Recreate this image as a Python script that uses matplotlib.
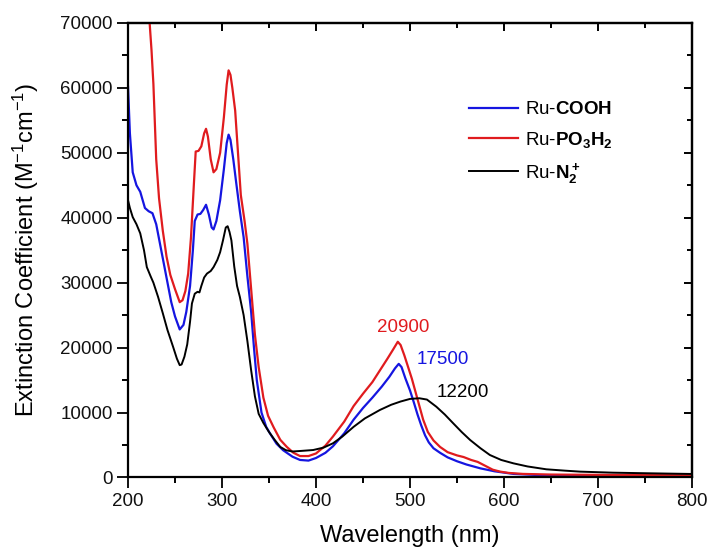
import matplotlib
matplotlib.use("Agg")
import matplotlib.pyplot as plt
from matplotlib.ticker import MultipleLocator

# === Daten ===
wl_cooh = [200, 202, 205, 209, 213, 218, 222, 226, 230, 234, 238, 242, 246, 250, 255,
           259, 262, 266, 269, 271, 274, 277, 280, 283, 286, 289, 291, 294, 298, 302,
           305, 307, 309, 312, 315, 319, 323, 327, 331, 334, 337, 342, 347, 351, 358,
           365, 375, 383, 392, 400, 410, 418, 430, 440, 450, 460, 470, 478, 484, 488,
           491, 495, 500, 504, 508, 512, 516, 520, 525, 532, 540, 550, 560, 575, 590,
           610, 640, 700, 800]
eps_cooh = [60200, 53000, 47000, 45000, 44000, 41500, 41000, 40700, 39000, 36000, 33000,
            30000, 27000, 24800, 22800, 23500, 25500, 29500, 35000, 39500, 40500, 40600,
            41200, 42000, 40500, 38500, 38200, 39500, 42700, 47500, 51500, 52800, 52000,
            49000, 45500, 41000, 37000, 31000, 25500, 20000, 15000, 10000, 7800, 6800,
            5200, 4200, 3200, 2700, 2600, 3000, 3800, 4800, 6800, 8900, 10700, 12300,
            14000, 15500, 16800, 17500, 17000, 15300, 13400, 11600, 9700, 8000, 6500,
            5400, 4500, 3800, 3100, 2500, 2000, 1400, 950, 550, 350, 250, 200]

wl_po3h2 = [200, 210, 218, 223, 225, 227, 230, 233, 237, 241, 245, 250, 255, 258, 261,
            264, 267, 270, 272, 275, 278, 281, 283, 285, 288, 291, 294, 298, 302, 305,
            307, 309, 311, 314, 317, 320, 324, 327, 331, 335, 339, 344, 349, 355, 362,
            369, 376, 383, 392, 400, 410, 418, 430, 440, 450, 460, 468, 476, 482, 487,
            490, 494, 498, 502, 506, 510, 514, 519, 525, 532, 540, 550, 557, 565, 572,
            580, 588, 596, 605, 620, 650, 700, 800]
eps_po3h2 = [130000, 100000, 80000, 70000, 65800, 60600, 49000, 43000, 38000, 34000,
             31200, 29000, 27000, 27300, 28700, 31400, 37000, 45000, 50200, 50300, 51000,
             53000, 53700, 52500, 49000, 47000, 47500, 50000, 55500, 60500, 62700, 62000,
             60000, 56500, 50000, 43500, 39500, 36000, 29000, 22000, 17000, 12300, 9500,
             7700, 5800, 4700, 3800, 3300, 3300, 3700, 4900, 6300, 8600, 11000, 12900,
             14700, 16500, 18300, 19700, 20900, 20400, 18800, 17000, 15200, 13100, 11000,
             8900, 7000, 5700, 4700, 3900, 3400, 3150, 2700, 2400, 1800, 1200, 900, 700,
             550, 450, 400, 350]

wl_n2 = [200, 202, 205, 209, 213, 217, 220, 224, 227, 232, 237, 242, 248, 252, 255, 257,
         260, 263, 266, 268, 271, 274, 276, 278, 281, 284, 288, 291, 295, 298, 301, 304,
         306, 308, 310, 313, 316, 319, 323, 327, 331, 335, 339, 344, 350, 356, 362, 368,
         375, 385, 397, 408, 418, 428, 440, 452, 468, 480, 490, 500, 510, 518, 528, 537,
         546, 555, 564, 575, 585, 597, 610, 625, 645, 665, 681, 716, 752, 800]
eps_n2 = [42700, 41500, 40100, 39000, 37600, 35000, 32400, 31000, 30000, 27800, 25300,
          22700, 20100, 18300, 17300, 17400, 18600, 20500, 24000, 26800, 28300, 28600,
          28500, 29500, 30800, 31400, 31800, 32400, 33500, 34700, 36500, 38500, 38700,
          37800, 36500, 32500, 29500, 27800, 25000, 21000, 16500, 12500, 9800, 8400,
          7000, 5800, 4700, 4200, 4000, 4100, 4230, 4600, 5260, 6300, 7800, 9100, 10400,
          11200, 11700, 12100, 12200, 12000, 10900, 9700, 8340, 7000, 5770, 4500, 3460,
          2700, 2180, 1700, 1260, 1050, 900, 740, 650, 540]

labels = ["Ru-$\\mathbf{COOH}$", "Ru-$\\mathbf{PO_3H_2}$", "Ru-$\\mathbf{N_2^+}$"]
colors = ["#1515e0", "#e01b1e", "#000000"]

# Maxima der MLCT-Bande
peak_wl = [488, 487, 510]
peak_eps = [17500, 20900, 12200]

# === Stil ===
plt.rcParams["font.family"] = ["Liberation Sans", "DejaVu Sans"]
plt.rcParams["mathtext.fontset"] = "custom"
plt.rcParams["mathtext.rm"] = "Liberation Sans"
plt.rcParams["mathtext.it"] = "Liberation Sans:italic"
plt.rcParams["mathtext.bf"] = "Liberation Sans:bold"

fig = plt.figure(figsize=(7.12, 5.52), dpi=100)
ax = fig.add_axes([0.1798, 0.135, 0.7921, 0.8234])

ax.plot(wl_cooh, eps_cooh, color=colors[0], lw=1.6, label=labels[0])
ax.plot(wl_po3h2, eps_po3h2, color=colors[1], lw=1.6, label=labels[1])
ax.plot(wl_n2, eps_n2, color=colors[2], lw=1.4, label=labels[2])

ax.set_xlim(200, 800)
ax.set_ylim(0, 70000)

# Achsen / Ticks
for sp in ax.spines.values():
    sp.set_linewidth(1.6)
ax.xaxis.set_major_locator(MultipleLocator(100))
ax.xaxis.set_minor_locator(MultipleLocator(50))
ax.yaxis.set_major_locator(MultipleLocator(10000))
ax.yaxis.set_minor_locator(MultipleLocator(5000))
ax.tick_params(which="major", direction="out", length=8, width=1.4, labelsize=13.5,
               pad=3, colors="#111111")
ax.tick_params(which="minor", direction="out", length=4, width=1.4)

sec_x = ax.secondary_xaxis("top")
sec_x.xaxis.set_major_locator(MultipleLocator(100))
sec_x.xaxis.set_minor_locator(MultipleLocator(50))
sec_x.tick_params(which="major", direction="in", length=6, width=1.4, labeltop=False)
sec_x.tick_params(which="minor", direction="in", length=3.5, width=1.4)
sec_x.spines["top"].set_linewidth(1.6)

sec_y = ax.secondary_yaxis("right")
sec_y.yaxis.set_major_locator(MultipleLocator(10000))
sec_y.yaxis.set_minor_locator(MultipleLocator(5000))
sec_y.tick_params(which="major", direction="in", length=6, width=1.4, labelright=False)
sec_y.tick_params(which="minor", direction="in", length=3.5, width=1.4)
sec_y.spines["right"].set_linewidth(1.6)

ax.set_xlabel("Wavelength (nm)", fontsize=17, labelpad=11)
ax.set_ylabel("Extinction Coefficient (M$^{-1}$cm$^{-1}$)", fontsize=17, labelpad=14)

# Werte an den Maxima
offsets = [(32, 3), (4, 10), (31, 4.5)]
for x, y, c, off in zip(peak_wl, peak_eps, colors, offsets):
    ax.annotate(f"{y}", xy=(x, y), xytext=off, textcoords="offset points",
                ha="center", va="center", color=c, fontsize=13.5)

ax.legend(loc="upper left", bbox_to_anchor=(0.575, 0.865), frameon=False,
          fontsize=13.5, handlelength=2.6, handletextpad=0.4, labelspacing=0.6)

plt.savefig("out.png", dpi=100)
